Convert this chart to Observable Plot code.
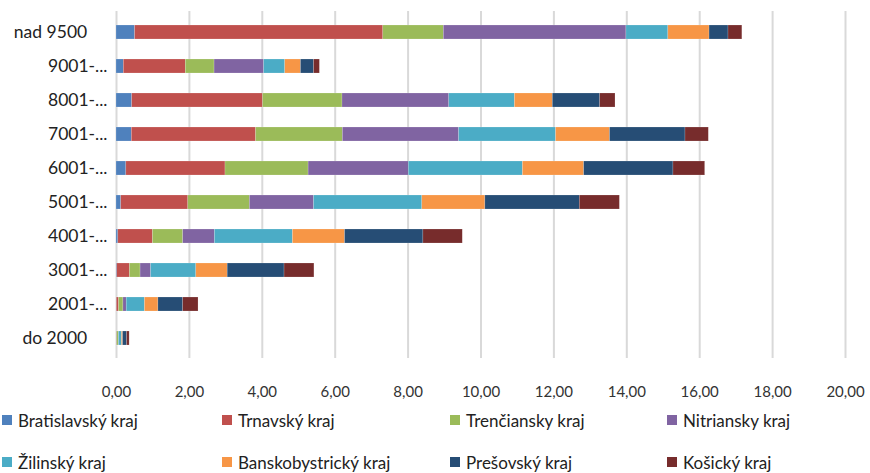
<!DOCTYPE html>
<html>
<head>
<meta charset="utf-8">
<script src="https://cdn.jsdelivr.net/npm/d3@7"></script>
<script src="https://cdn.jsdelivr.net/npm/@observablehq/plot@0.6"></script>
<style>
  html, body { margin: 0; padding: 0; background: #fff; }
  body { width: 870px; height: 473px; overflow: hidden; font-family: Lato, "Open Sans", sans-serif; }
  #legend { position: relative; width: 870px; height: 68px; }
  .item { position: absolute; display: flex; align-items: center; font-size: 17px; color: #222; white-space: nowrap; }
  .sw { width: 10px; height: 10px; margin-right: 6px; }
</style>
</head>
<body>
<div id="chart"></div>
<div id="legend"></div>
<script>
const categories = ["nad 9500", "9001-...", "8001-...", "7001-...", "6001-...", "5001-...", "4001-...", "3001-...", "2001-...", "do 2000"];
const regions = ["Bratislavský kraj", "Trnavský kraj", "Trenčiansky kraj", "Nitriansky kraj", "Žilinský kraj", "Banskobystrický kraj", "Prešovský kraj", "Košický kraj"];
const colors = ["#4F81BD", "#C0504D", "#9BBB59", "#8064A2", "#4BACC6", "#F79646", "#264D75", "#772C2C"];
const xTicks = [0, 2, 4, 6, 8, 10, 12, 14, 16, 18, 20];

const bratislavsky     = [0.51, 0.20, 0.43, 0.42, 0.27, 0.13, 0.05, 0.02, 0.01, 0.01];
const trnavsky         = [6.81, 1.70, 3.59, 3.41, 2.72, 1.84, 0.95, 0.35, 0.06, 0.01];
const trenciansky      = [1.66, 0.79, 2.18, 2.38, 2.28, 1.69, 0.83, 0.29, 0.12, 0.04];
const nitriansky       = [5.01, 1.36, 2.93, 3.19, 2.75, 1.76, 0.87, 0.29, 0.09, 0.01];
const zilinsky         = [1.15, 0.58, 1.80, 2.66, 3.13, 2.97, 2.14, 1.24, 0.50, 0.08];
const banskobystricky  = [1.13, 0.43, 1.04, 1.48, 1.68, 1.73, 1.43, 0.86, 0.37, 0.03];
const presovsky        = [0.52, 0.36, 1.30, 2.07, 2.45, 2.59, 2.15, 1.56, 0.68, 0.11];
const kosicky          = [0.38, 0.16, 0.42, 0.64, 0.87, 1.10, 1.08, 0.82, 0.42, 0.07];

const series = [bratislavsky, trnavsky, trenciansky, nitriansky, zilinsky, banskobystricky, presovsky, kosicky];

const data = [];
series.forEach((vals, si) => {
  vals.forEach((v, ci) => data.push({region: regions[si], category: categories[ci], value: v}));
});

const fmt = d => d.toFixed(2).replace(".", ",");
const yLabel = d => d.endsWith("...") ? d : d + "\u2007\u2007";

const chart = Plot.plot({
  width: 870,
  height: 405,
  marginLeft: 116,
  marginRight: 25,
  marginTop: 11,
  marginBottom: 47,
  style: {fontFamily: "Lato, 'Open Sans', sans-serif", background: "#fff"},
  x: {domain: [0, 20], ticks: xTicks, tickFormat: fmt, grid: false},
  y: {domain: categories, paddingInner: 0.6, paddingOuter: 0.29, label: null},
  color: {domain: regions, range: colors},
  marks: [
    Plot.gridX(xTicks, {stroke: "#d9d9d9", strokeOpacity: 1, strokeWidth: 2}),
    Plot.barX(data, {y: "category", x: "value", fill: "region", stroke: "#fff", strokeOpacity: 0.35, strokeWidth: 0.5}),
    Plot.axisX(xTicks, {tickSize: 0, tickPadding: 28, tickFormat: fmt, fontSize: 15, fill: "#333", label: null}),
    Plot.axisY({tickSize: 0, tickPadding: 9, tickFormat: yLabel, fontSize: 17.5, fill: "#222", label: null})
  ]
});
document.getElementById("chart").appendChild(chart);

const legend = document.getElementById("legend");
const colX = [2, 222, 450, 667];
const rowY = [15, 57];
regions.forEach((r, i) => {
  const el = document.createElement("div");
  el.className = "item";
  el.style.left = colX[i % 4] + "px";
  el.style.top = (rowY[Math.floor(i / 4)] - 11) + "px";
  el.style.height = "22px";
  const sw = document.createElement("span");
  sw.className = "sw";
  sw.style.background = colors[i];
  const t = document.createElement("span");
  t.textContent = r;
  el.appendChild(sw);
  el.appendChild(t);
  legend.appendChild(el);
});
</script>
</body>
</html>
